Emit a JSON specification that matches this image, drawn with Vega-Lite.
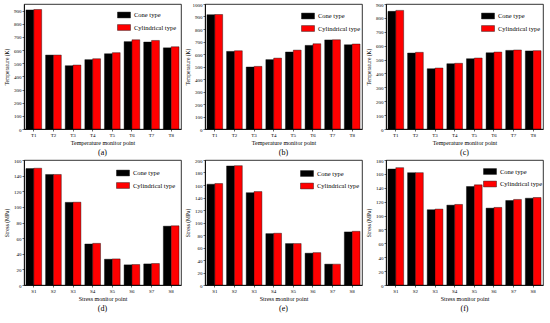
{
  "$schema": "https://vega.github.io/schema/vega-lite/v6.json",
  "padding": {"left": 3, "top": 1, "right": 0, "bottom": 0},
  "background": "white",
  "config": {
    "font": "Liberation Serif",
    "view": {"stroke": "black", "strokeWidth": 0.8},
    "axis": {"grid": false, "domainColor": "black", "tickColor": "black", "labelColor": "black", "titleColor": "black",
      "labelFont": "Liberation Serif", "titleFont": "Liberation Serif", "labelFontSize": 5, "titleFontSize": 5.5,
      "titleFontWeight": "normal", "tickSize": 2, "labelPadding": 1, "titlePadding": 2, "domainWidth": 0.8, "tickWidth": 0.6},
    "axisX": {"labelAngle": 0, "titlePadding": 2.5, "titleFontSize": 6},
    "axisY": {"minExtent": 13, "maxExtent": 13, "format": "d"},
    "legend": {"title": null, "orient": "none", "symbolType": "M-1,-0.45H1V0.45H-1Z", "symbolSize": 169,
      "symbolStrokeColor": "black", "symbolStrokeWidth": 0.4, "labelFont": "Liberation Serif", "labelFontSize": 6.5,
      "labelColor": "black", "labelOffset": 3, "rowPadding": 1.5, "padding": 0},
    "title": {"orient": "bottom", "fontSize": 8, "fontWeight": "normal", "font": "Liberation Serif", "offset": 3, "anchor": "middle", "color": "black"},
    "bar": {"stroke": "black", "strokeWidth": 0.4}
  },
  "columns": 3,
  "spacing": {"row": 0, "column": 2},
  "resolve": {"legend": {"color": "independent"}, "scale": {"color": "independent"}},
  "concat": [
    {
      "width": 157, "height": 125, "title": "(a)",
      "data": {"values": [
        {"point": "T1", "type": "Cone type", "value": 905}, {"point": "T1", "type": "Cylindrical type", "value": 908},
        {"point": "T2", "type": "Cone type", "value": 562}, {"point": "T2", "type": "Cylindrical type", "value": 562},
        {"point": "T3", "type": "Cone type", "value": 481}, {"point": "T3", "type": "Cylindrical type", "value": 486},
        {"point": "T4", "type": "Cone type", "value": 527}, {"point": "T4", "type": "Cylindrical type", "value": 534},
        {"point": "T5", "type": "Cone type", "value": 572}, {"point": "T5", "type": "Cylindrical type", "value": 580},
        {"point": "T6", "type": "Cone type", "value": 664}, {"point": "T6", "type": "Cylindrical type", "value": 678},
        {"point": "T7", "type": "Cone type", "value": 661}, {"point": "T7", "type": "Cylindrical type", "value": 673},
        {"point": "T8", "type": "Cone type", "value": 617}, {"point": "T8", "type": "Cylindrical type", "value": 625}
      ]},
      "mark": "bar",
      "encoding": {
        "x": {"field": "point", "type": "nominal", "sort": null, "scale": {"paddingInner": 0.2, "paddingOuter": 0.1}, "axis": {"title": "Temperature monitor point"}},
        "xOffset": {"field": "type", "type": "nominal", "sort": ["Cone type", "Cylindrical type"], "scale": {"paddingInner": 0, "paddingOuter": 0}},
        "y": {"field": "value", "type": "quantitative", "scale": {"domain": [0, 950], "nice": false}, "axis": {"title": "Temperature (K)", "values": [0,100,200,300,400,500,600,700,800,900]}},
        "color": {"field": "type", "type": "nominal", "scale": {"domain": ["Cone type", "Cylindrical type"], "range": ["#000000", "#ff0000"]}, "legend": {"legendX": 93, "legendY": 4}}
      }
    },
    {
      "width": 157, "height": 125, "title": "(b)",
      "data": {"values": [
        {"point": "T1", "type": "Cone type", "value": 915}, {"point": "T1", "type": "Cylindrical type", "value": 916},
        {"point": "T2", "type": "Cone type", "value": 621}, {"point": "T2", "type": "Cylindrical type", "value": 626},
        {"point": "T3", "type": "Cone type", "value": 496}, {"point": "T3", "type": "Cylindrical type", "value": 501},
        {"point": "T4", "type": "Cone type", "value": 555}, {"point": "T4", "type": "Cylindrical type", "value": 567},
        {"point": "T5", "type": "Cone type", "value": 616}, {"point": "T5", "type": "Cylindrical type", "value": 631},
        {"point": "T6", "type": "Cone type", "value": 669}, {"point": "T6", "type": "Cylindrical type", "value": 682},
        {"point": "T7", "type": "Cone type", "value": 713}, {"point": "T7", "type": "Cylindrical type", "value": 714},
        {"point": "T8", "type": "Cone type", "value": 674}, {"point": "T8", "type": "Cylindrical type", "value": 680}
      ]},
      "mark": "bar",
      "encoding": {
        "x": {"field": "point", "type": "nominal", "sort": null, "scale": {"paddingInner": 0.2, "paddingOuter": 0.1}, "axis": {"title": "Temperature monitor point"}},
        "xOffset": {"field": "type", "type": "nominal", "sort": ["Cone type", "Cylindrical type"], "scale": {"paddingInner": 0, "paddingOuter": 0}},
        "y": {"field": "value", "type": "quantitative", "scale": {"domain": [0, 1000], "nice": false}, "axis": {"title": "Temperature (K)", "values": [0,100,200,300,400,500,600,700,800,900,1000]}},
        "color": {"field": "type", "type": "nominal", "scale": {"domain": ["Cone type", "Cylindrical type"], "range": ["#000000", "#ff0000"]}, "legend": {"legendX": 96, "legendY": 5}}
      }
    },
    {
      "width": 157, "height": 125, "title": "(c)",
      "data": {"values": [
        {"point": "T1", "type": "Cone type", "value": 847}, {"point": "T1", "type": "Cylindrical type", "value": 854},
        {"point": "T2", "type": "Cone type", "value": 547}, {"point": "T2", "type": "Cylindrical type", "value": 552},
        {"point": "T3", "type": "Cone type", "value": 434}, {"point": "T3", "type": "Cylindrical type", "value": 439},
        {"point": "T4", "type": "Cone type", "value": 470}, {"point": "T4", "type": "Cylindrical type", "value": 473},
        {"point": "T5", "type": "Cone type", "value": 506}, {"point": "T5", "type": "Cylindrical type", "value": 511},
        {"point": "T6", "type": "Cone type", "value": 549}, {"point": "T6", "type": "Cylindrical type", "value": 554},
        {"point": "T7", "type": "Cone type", "value": 566}, {"point": "T7", "type": "Cylindrical type", "value": 569},
        {"point": "T8", "type": "Cone type", "value": 562}, {"point": "T8", "type": "Cylindrical type", "value": 564}
      ]},
      "mark": "bar",
      "encoding": {
        "x": {"field": "point", "type": "nominal", "sort": null, "scale": {"paddingInner": 0.2, "paddingOuter": 0.1}, "axis": {"title": "Temperature monitor point"}},
        "xOffset": {"field": "type", "type": "nominal", "sort": ["Cone type", "Cylindrical type"], "scale": {"paddingInner": 0, "paddingOuter": 0}},
        "y": {"field": "value", "type": "quantitative", "scale": {"domain": [0, 900], "nice": false}, "axis": {"title": "Temperature (K)", "values": [0,100,200,300,400,500,600,700,800,900]}},
        "color": {"field": "type", "type": "nominal", "scale": {"domain": ["Cone type", "Cylindrical type"], "range": ["#000000", "#ff0000"]}, "legend": {"legendX": 95, "legendY": 5}}
      }
    },
    {
      "width": 157, "height": 125, "title": "(d)",
      "data": {"values": [
        {"point": "S1", "type": "Cone type", "value": 149}, {"point": "S1", "type": "Cylindrical type", "value": 149.5},
        {"point": "S2", "type": "Cone type", "value": 141.5}, {"point": "S2", "type": "Cylindrical type", "value": 141.5},
        {"point": "S3", "type": "Cone type", "value": 105.8}, {"point": "S3", "type": "Cylindrical type", "value": 106},
        {"point": "S4", "type": "Cone type", "value": 52.5}, {"point": "S4", "type": "Cylindrical type", "value": 53.3},
        {"point": "S5", "type": "Cone type", "value": 33}, {"point": "S5", "type": "Cylindrical type", "value": 33.4},
        {"point": "S6", "type": "Cone type", "value": 25.8}, {"point": "S6", "type": "Cylindrical type", "value": 26.2},
        {"point": "S7", "type": "Cone type", "value": 27}, {"point": "S7", "type": "Cylindrical type", "value": 27.5},
        {"point": "S8", "type": "Cone type", "value": 75.3}, {"point": "S8", "type": "Cylindrical type", "value": 75.8}
      ]},
      "mark": "bar",
      "encoding": {
        "x": {"field": "point", "type": "nominal", "sort": null, "scale": {"paddingInner": 0.2, "paddingOuter": 0.1}, "axis": {"title": "Stress monitor point"}},
        "xOffset": {"field": "type", "type": "nominal", "sort": ["Cone type", "Cylindrical type"], "scale": {"paddingInner": 0, "paddingOuter": 0}},
        "y": {"field": "value", "type": "quantitative", "scale": {"domain": [0, 160], "nice": false}, "axis": {"title": "Stress (MPa)", "values": [0,20,40,60,80,100,120,140,160]}},
        "color": {"field": "type", "type": "nominal", "scale": {"domain": ["Cone type", "Cylindrical type"], "range": ["#000000", "#ff0000"]}, "legend": {"legendX": 92, "legendY": 6}}
      }
    },
    {
      "width": 157, "height": 125, "title": "(e)",
      "data": {"values": [
        {"point": "S1", "type": "Cone type", "value": 161.3}, {"point": "S1", "type": "Cylindrical type", "value": 162.3},
        {"point": "S2", "type": "Cone type", "value": 190.5}, {"point": "S2", "type": "Cylindrical type", "value": 191},
        {"point": "S3", "type": "Cone type", "value": 147.8}, {"point": "S3", "type": "Cylindrical type", "value": 149.5},
        {"point": "S4", "type": "Cone type", "value": 82.2}, {"point": "S4", "type": "Cylindrical type", "value": 82.8},
        {"point": "S5", "type": "Cone type", "value": 66.3}, {"point": "S5", "type": "Cylindrical type", "value": 66.3},
        {"point": "S6", "type": "Cone type", "value": 50.9}, {"point": "S6", "type": "Cylindrical type", "value": 51.8},
        {"point": "S7", "type": "Cone type", "value": 33.4}, {"point": "S7", "type": "Cylindrical type", "value": 33.4},
        {"point": "S8", "type": "Cone type", "value": 84.9}, {"point": "S8", "type": "Cylindrical type", "value": 85.9}
      ]},
      "mark": "bar",
      "encoding": {
        "x": {"field": "point", "type": "nominal", "sort": null, "scale": {"paddingInner": 0.2, "paddingOuter": 0.1}, "axis": {"title": "Stress monitor point"}},
        "xOffset": {"field": "type", "type": "nominal", "sort": ["Cone type", "Cylindrical type"], "scale": {"paddingInner": 0, "paddingOuter": 0}},
        "y": {"field": "value", "type": "quantitative", "scale": {"domain": [0, 200], "nice": false}, "axis": {"title": "Stress (MPa)", "values": [0,20,40,60,80,100,120,140,160,180,200]}},
        "color": {"field": "type", "type": "nominal", "scale": {"domain": ["Cone type", "Cylindrical type"], "range": ["#000000", "#ff0000"]}, "legend": {"legendX": 95, "legendY": 6.5}}
      }
    },
    {
      "width": 157, "height": 125, "title": "(f)",
      "data": {"values": [
        {"point": "S1", "type": "Cone type", "value": 167}, {"point": "S1", "type": "Cylindrical type", "value": 169},
        {"point": "S2", "type": "Cone type", "value": 161.8}, {"point": "S2", "type": "Cylindrical type", "value": 161.8},
        {"point": "S3", "type": "Cone type", "value": 108.4}, {"point": "S3", "type": "Cylindrical type", "value": 109.3},
        {"point": "S4", "type": "Cone type", "value": 115}, {"point": "S4", "type": "Cylindrical type", "value": 116},
        {"point": "S5", "type": "Cone type", "value": 141.8}, {"point": "S5", "type": "Cylindrical type", "value": 144.2},
        {"point": "S6", "type": "Cone type", "value": 110.7}, {"point": "S6", "type": "Cylindrical type", "value": 111.7},
        {"point": "S7", "type": "Cone type", "value": 121.7}, {"point": "S7", "type": "Cylindrical type", "value": 123.2},
        {"point": "S8", "type": "Cone type", "value": 125}, {"point": "S8", "type": "Cylindrical type", "value": 126}
      ]},
      "mark": "bar",
      "encoding": {
        "x": {"field": "point", "type": "nominal", "sort": null, "scale": {"paddingInner": 0.2, "paddingOuter": 0.1}, "axis": {"title": "Stress monitor point"}},
        "xOffset": {"field": "type", "type": "nominal", "sort": ["Cone type", "Cylindrical type"], "scale": {"paddingInner": 0, "paddingOuter": 0}},
        "y": {"field": "value", "type": "quantitative", "scale": {"domain": [0, 180], "nice": false}, "axis": {"title": "Stress (MPa)", "values": [0,20,40,60,80,100,120,140,160,180]}},
        "color": {"field": "type", "type": "nominal", "scale": {"domain": ["Cone type", "Cylindrical type"], "range": ["#000000", "#ff0000"]}, "legend": {"legendX": 97, "legendY": 4.5}}
      }
    }
  ]
}
